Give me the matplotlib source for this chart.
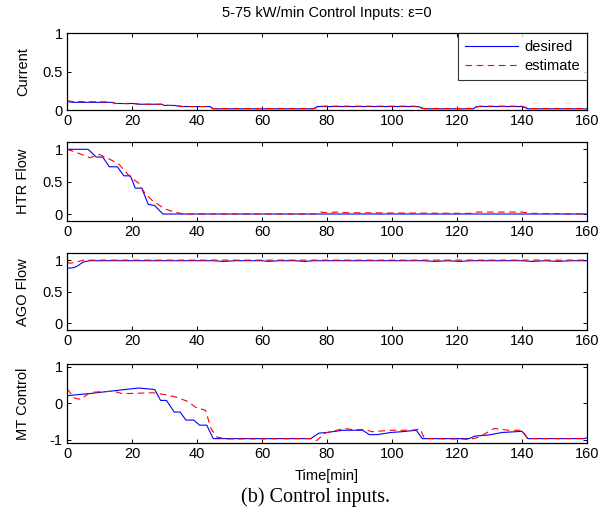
import matplotlib
matplotlib.use("Agg")
import matplotlib.pyplot as plt

plt.rcParams['font.family'] = ['Liberation Sans', 'DejaVu Sans']

title = "5-75 kW/min Control Inputs: \u03b5=0"
caption = "(b) Control inputs."
ylabels = ["Current", "HTR Flow", "AGO Flow", "MT Control"]
xticks = [0, 20, 40, 60, 80, 100, 120, 140, 160]

# Current
cur_des_t = [0, 2, 14, 15, 21, 22, 29, 30, 33, 35, 44, 45, 76, 77, 108, 110, 125, 126, 140, 142, 160]
cur_des_y = [0.11, 0.10, 0.10, 0.085, 0.085, 0.075, 0.075, 0.06, 0.06, 0.045, 0.045, 0.015, 0.015, 0.045, 0.045, 0.015, 0.015, 0.045, 0.045, 0.015, 0.015]
cur_est_t = [0, 2, 13, 15, 21, 23, 29, 31, 34, 36, 43, 45, 76, 78, 107, 109, 125, 127, 140, 142, 160]
cur_est_y = [0.12, 0.11, 0.105, 0.085, 0.08, 0.075, 0.075, 0.06, 0.055, 0.045, 0.045, 0.02, 0.02, 0.05, 0.05, 0.02, 0.02, 0.05, 0.05, 0.02, 0.02]

# HTR Flow
htr_des_t = [0, 6.5, 9, 11, 13, 15.5, 17.5, 19.5, 21, 23, 25, 27, 29.5, 160]
htr_des_y = [1.0, 1.0, 0.88, 0.88, 0.73, 0.73, 0.59, 0.59, 0.40, 0.40, 0.15, 0.13, 0.0, 0.0]
htr_est_t = [0, 3, 7, 10, 13, 16, 18, 20, 22, 24, 26, 28, 30, 33, 36, 76, 78, 80, 83, 86, 124, 126, 140, 143, 160]
htr_est_y = [1.0, 0.95, 0.87, 0.92, 0.85, 0.77, 0.65, 0.55, 0.48, 0.32, 0.22, 0.15, 0.08, 0.03, 0.0, 0.0, 0.03, 0.02, 0.03, 0.02, 0.01, 0.03, 0.03, 0.01, 0.0]

# AGO Flow
ago_des_t = [0, 2, 3, 5, 7, 45, 48, 52, 60, 62, 65, 70, 73, 76, 110, 113, 117, 121, 124, 140, 143, 147, 151, 155, 160]
ago_des_y = [0.87, 0.88, 0.90, 0.97, 0.99, 0.99, 0.98, 0.99, 0.99, 0.98, 0.99, 0.99, 0.98, 0.99, 0.99, 0.98, 0.99, 0.98, 0.99, 0.99, 0.98, 0.99, 0.98, 0.99, 0.99]
ago_est_t = [0, 1, 3, 5, 160]
ago_est_y = [0.97, 0.95, 0.97, 1.0, 1.0]

# MT Control
mt_des_t = [0, 3.6, 7.2, 10, 15, 20, 22, 27, 28.8, 30.6, 33, 34.8, 36.6, 39, 40.8, 43, 45, 75, 77.5, 80, 85, 91, 93, 95.5, 99.7, 103, 107.5, 109.3, 123.7, 125.5, 129.7, 134, 140, 141.8, 159, 160]
mt_des_y = [0.21, 0.24, 0.27, 0.30, 0.35, 0.40, 0.42, 0.38, 0.08, 0.08, -0.24, -0.24, -0.46, -0.46, -0.60, -0.60, -0.97, -0.97, -0.82, -0.80, -0.74, -0.74, -0.86, -0.86, -0.80, -0.78, -0.74, -0.97, -0.97, -0.90, -0.87, -0.80, -0.77, -0.97, -0.97, -0.95]
mt_est_t = [0, 2.4, 4.2, 7.2, 10.8, 14.4, 16.8, 19.2, 26.4, 30, 33.6, 37.2, 39.6, 42.6, 44.4, 46.2, 49.2, 75, 76.9, 79.3, 85.3, 87.7, 91.9, 93.7, 99.7, 105.7, 108.7, 110, 122, 123.7, 126.7, 131.5, 135.7, 140, 141.8, 160]
mt_est_y = [0.40, 0.14, 0.11, 0.30, 0.32, 0.33, 0.27, 0.27, 0.29, 0.24, 0.17, 0.05, -0.11, -0.19, -0.71, -0.93, -0.98, -0.97, -1.02, -0.82, -0.69, -0.72, -0.72, -0.78, -0.74, -0.74, -0.71, -0.97, -0.98, -1.0, -0.93, -0.69, -0.74, -0.74, -0.97, -0.97]

series = [
    (cur_des_t, cur_des_y, cur_est_t, cur_est_y, (0, 1), [0, 0.5, 1], ["0", "0.5", "1"]),
    (htr_des_t, htr_des_y, htr_est_t, htr_est_y, (-0.108, 1.108), [0, 0.5, 1], ["0", "0.5", "1"]),
    (ago_des_t, ago_des_y, ago_est_t, ago_est_y, (-0.108, 1.108), [0, 0.5, 1], ["0", "0.5", "1"]),
    (mt_des_t, mt_des_y, mt_est_t, mt_est_y, (-1.09, 1.08), [-1, 0, 1], ["-1", "0", "1"]),
]

W, H = 613, 527
FS = 10.5
fig = plt.figure(figsize=(W / 100, H / 100), dpi=100)

boxes = [(33.3, 110), (142.3, 221), (253.3, 330), (364, 443)]
left, right = 67, 587
axes = []
for (top, bot), (dt, dy, et, ey, ylim, yt, ytl), lab in zip(boxes, series, ylabels):
    ax = fig.add_axes([left / W, 1 - bot / H, (right - left) / W, (bot - top) / H])
    ax.plot(dt, dy, color='#0000ff', lw=0.8, label='desired')
    ax.plot(et, ey, color='#ff0000', lw=0.8, ls=(0, (6, 4)), label='estimate')
    ax.set_xlim(0, 160)
    ax.set_ylim(*ylim)
    ax.set_xticks(xticks)
    ax.set_xticklabels([str(x) for x in xticks])
    ax.set_yticks(yt)
    ax.set_yticklabels(ytl)
    ax.tick_params(direction='in', top=True, right=True, length=3, width=0.7,
                   labelsize=FS, pad=3)
    for s in ax.spines.values():
        s.set_linewidth(0.9)
    ax.set_ylabel(lab, fontsize=FS, va='center')
    ax.yaxis.set_label_coords((23 - left) / (right - left), 0.5)
    axes.append(ax)

leg = axes[0].legend(loc='upper right', fontsize=FS, frameon=True, fancybox=False,
                     edgecolor='black', borderaxespad=0, handlelength=3.6,
                     handletextpad=0.5, borderpad=0.45, labelspacing=0.35)
leg.get_frame().set_linewidth(0.8)

axes[0].set_title(title, fontsize=FS, pad=11.5)
axes[3].set_xlabel("Time[min]", fontsize=FS, labelpad=5.5)

fig.text(0.515, 1 - 497 / H, caption, ha='center', va='center',
         fontsize=14.5, family=['Liberation Serif', 'DejaVu Serif'])

fig.savefig('out.png', dpi=100)
